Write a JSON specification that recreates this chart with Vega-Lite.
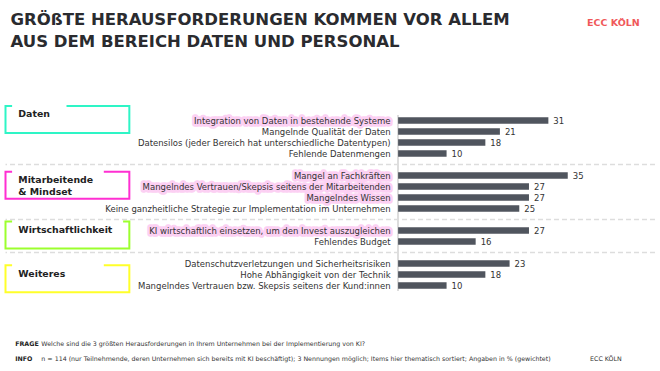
{
  "$schema": "https://vega.github.io/schema/vega-lite/v6.json",
  "width": 649.5,
  "height": 176,
  "autosize": {"type": "none"},
  "padding": {"left": 5.5, "top": 115, "right": 5, "bottom": 80},
  "background": "white",
  "config": {"view": {"stroke": null}, "font": "DejaVu Sans"},
  "title": {
    "text": ["GRÖßTE HERAUSFORDERUNGEN KOMMEN VOR ALLEM", "AUS DEM BEREICH DATEN UND PERSONAL"],
    "anchor": "start",
    "frame": "group",
    "offset": -33,
    "dx": 5,
    "font": "DejaVu Sans",
    "fontSize": 16.5,
    "fontWeight": "bold",
    "color": "#2a2b2f",
    "lineHeight": 22
  },
  "datasets": {
    "items": [
      {"group": "Daten", "item": "Integration von Daten in bestehende Systeme", "value": 31, "hl": true},
      {"group": "Daten", "item": "Mangelnde Qualität der Daten", "value": 21, "hl": false},
      {"group": "Daten", "item": "Datensilos (jeder Bereich hat unterschiedliche Datentypen)", "value": 18, "hl": false},
      {"group": "Daten", "item": "Fehlende Datenmengen", "value": 10, "hl": false},
      {"group": "Mitarbeitende\n& Mindset", "item": "Mangel an Fachkräften", "value": 35, "hl": true},
      {"group": "Mitarbeitende\n& Mindset", "item": "Mangelndes Vertrauen/Skepsis seitens der Mitarbeitenden", "value": 27, "hl": true},
      {"group": "Mitarbeitende\n& Mindset", "item": "Mangelndes Wissen", "value": 27, "hl": true},
      {"group": "Mitarbeitende\n& Mindset", "item": "Keine ganzheitliche Strategie zur Implementation im Unternehmen", "value": 25, "hl": false},
      {"group": "Wirtschaftlichkeit", "item": "KI wirtschaftlich einsetzen, um den Invest auszugleichen", "value": 27, "hl": true},
      {"group": "Wirtschaftlichkeit", "item": "Fehlendes Budget", "value": 16, "hl": false},
      {"group": "Weiteres", "item": "Datenschutzverletzungen und Sicherheitsrisiken", "value": 23, "hl": false},
      {"group": "Weiteres", "item": "Hohe Abhängigkeit von der Technik", "value": 18, "hl": false},
      {"group": "Weiteres", "item": "Mangelndes Vertrauen bzw. Skepsis seitens der Kund:innen", "value": 10, "hl": false}
    ],
    "separators": [
      {"item": "_sep1"},
      {"item": "_sep2"},
      {"item": "_sep3"}
    ],
    "notes": [
      {"tag": "FRAGE", "text": "Welche sind die 3 größten Herausforderungen in Ihrem Unternehmen bei der Implementierung von KI?"},
      {"tag": "INFO", "text": "n = 114 (nur Teilnehmende, deren Unternehmen sich bereits mit KI beschäftigt); 3 Nennungen möglich; Items hier thematisch sortiert; Angaben in % (gewichtet)"}
    ]
  },
  "layer": [
    {
      "layer": [
        {
          "data": {"name": "separators"},
          "mark": {"type": "rule", "color": "#dddddd", "strokeWidth": 1.5, "strokeDash": [5, 3]},
          "encoding": {
            "y": {"field": "item", "type": "nominal", "bandPosition": 0.5, "axis": null,
              "scale": {"type": "band", "paddingInner": 0, "paddingOuter": 0, "domain": ["Integration von Daten in bestehende Systeme", "Mangelnde Qualität der Daten", "Datensilos (jeder Bereich hat unterschiedliche Datentypen)", "Fehlende Datenmengen", "_sep1", "Mangel an Fachkräften", "Mangelndes Vertrauen/Skepsis seitens der Mitarbeitenden", "Mangelndes Wissen", "Keine ganzheitliche Strategie zur Implementation im Unternehmen", "_sep2", "KI wirtschaftlich einsetzen, um den Invest auszugleichen", "Fehlendes Budget", "_sep3", "Datenschutzverletzungen und Sicherheitsrisiken", "Hohe Abhängigkeit von der Technik", "Mangelndes Vertrauen bzw. Skepsis seitens der Kund:innen"]}}
          }
        },
        {
          "data": {"name": "items"},
          "transform": [
            {"window": [{"op": "row_number", "as": "rn"}], "groupby": ["group"]},
            {"filter": "datum.rn == 1"}
          ],
          "mark": {"type": "bar", "height": 27, "fill": "transparent", "strokeWidth": 2},
          "encoding": {
            "y": {"field": "item", "type": "nominal", "axis": null,
              "scale": {"type": "band", "paddingInner": 0, "paddingOuter": 0, "domain": ["Integration von Daten in bestehende Systeme", "Mangelnde Qualität der Daten", "Datensilos (jeder Bereich hat unterschiedliche Datentypen)", "Fehlende Datenmengen", "_sep1", "Mangel an Fachkräften", "Mangelndes Vertrauen/Skepsis seitens der Mitarbeitenden", "Mangelndes Wissen", "Keine ganzheitliche Strategie zur Implementation im Unternehmen", "_sep2", "KI wirtschaftlich einsetzen, um den Invest auszugleichen", "Fehlendes Budget", "_sep3", "Datenschutzverletzungen und Sicherheitsrisiken", "Hohe Abhängigkeit von der Technik", "Mangelndes Vertrauen bzw. Skepsis seitens der Kund:innen"]}},
            "yOffset": {"field": "group", "type": "nominal",
              "scale": {"type": "point", "padding": 0, "domain": ["Daten", "Wirtschaftlichkeit", "Mitarbeitende\n& Mindset", "Weiteres"], "range": [4.44, 20.76]}},
            "x": {"datum": -81},
            "x2": {"datum": -55.45},
            "stroke": {"field": "group", "type": "nominal", "legend": null,
              "scale": {"domain": ["Daten", "Mitarbeitende\n& Mindset", "Wirtschaftlichkeit", "Weiteres"], "range": ["#2ef5c6", "#ff2fd2", "#9cff2e", "#ffff2a"]}},
            "strokeDash": {"field": "group", "type": "nominal", "legend": null,
              "scale": {"domain": ["Daten", "Mitarbeitende\n& Mindset", "Wirtschaftlichkeit", "Weiteres"], "range": [[6.6, 54.4, 400, 0], [6.6, 91.7, 400, 0], [6.6, 111, 400, 0], [6.6, 91.7, 400, 0]]}}
          }
        },
        {
          "data": {"name": "items"},
          "transform": [
            {"window": [{"op": "row_number", "as": "rn"}], "groupby": ["group"]},
            {"filter": "datum.rn == 1"}
          ],
          "mark": {"type": "text", "align": "left", "baseline": "alphabetic", "dx": 12.8, "dy": -2, "fontSize": 9.4, "fontWeight": "bold", "color": "#222222", "lineBreak": "\n", "lineHeight": 11.7},
          "encoding": {
            "y": {"field": "item", "type": "nominal", "axis": null,
              "scale": {"type": "band", "paddingInner": 0, "paddingOuter": 0, "domain": ["Integration von Daten in bestehende Systeme", "Mangelnde Qualität der Daten", "Datensilos (jeder Bereich hat unterschiedliche Datentypen)", "Fehlende Datenmengen", "_sep1", "Mangel an Fachkräften", "Mangelndes Vertrauen/Skepsis seitens der Mitarbeitenden", "Mangelndes Wissen", "Keine ganzheitliche Strategie zur Implementation im Unternehmen", "_sep2", "KI wirtschaftlich einsetzen, um den Invest auszugleichen", "Fehlendes Budget", "_sep3", "Datenschutzverletzungen und Sicherheitsrisiken", "Hohe Abhängigkeit von der Technik", "Mangelndes Vertrauen bzw. Skepsis seitens der Kund:innen"]}},
            "yOffset": {"field": "group", "type": "nominal",
              "scale": {"type": "point", "padding": 0, "domain": ["Daten", "Wirtschaftlichkeit", "Mitarbeitende\n& Mindset", "Weiteres"], "range": [4.44, 20.76]}},
            "x": {"datum": -81},
            "text": {"field": "group"}
          }
        },
        {
          "data": {"name": "items"},
          "transform": [{"filter": "datum.hl"}],
          "mark": {"type": "text", "align": "right", "baseline": "middle", "dx": -7.5, "fontSize": 8.5, "fill": "#fcd0f3", "stroke": "#fcd0f3", "strokeWidth": 5.5, "strokeJoin": "round"},
          "encoding": {
            "y": {"field": "item", "type": "nominal", "axis": null,
              "scale": {"type": "band", "paddingInner": 0, "paddingOuter": 0, "domain": ["Integration von Daten in bestehende Systeme", "Mangelnde Qualität der Daten", "Datensilos (jeder Bereich hat unterschiedliche Datentypen)", "Fehlende Datenmengen", "_sep1", "Mangel an Fachkräften", "Mangelndes Vertrauen/Skepsis seitens der Mitarbeitenden", "Mangelndes Wissen", "Keine ganzheitliche Strategie zur Implementation im Unternehmen", "_sep2", "KI wirtschaftlich einsetzen, um den Invest auszugleichen", "Fehlendes Budget", "_sep3", "Datenschutzverletzungen und Sicherheitsrisiken", "Hohe Abhängigkeit von der Technik", "Mangelndes Vertrauen bzw. Skepsis seitens der Kund:innen"]}},
            "x": {"datum": 0},
            "text": {"field": "item"}
          }
        },
        {
          "data": {"name": "items"},
          "mark": {"type": "text", "align": "right", "baseline": "middle", "dx": -7.5, "fontSize": 8.5, "color": "#333333"},
          "encoding": {
            "y": {"field": "item", "type": "nominal", "axis": null,
              "scale": {"type": "band", "paddingInner": 0, "paddingOuter": 0, "domain": ["Integration von Daten in bestehende Systeme", "Mangelnde Qualität der Daten", "Datensilos (jeder Bereich hat unterschiedliche Datentypen)", "Fehlende Datenmengen", "_sep1", "Mangel an Fachkräften", "Mangelndes Vertrauen/Skepsis seitens der Mitarbeitenden", "Mangelndes Wissen", "Keine ganzheitliche Strategie zur Implementation im Unternehmen", "_sep2", "KI wirtschaftlich einsetzen, um den Invest auszugleichen", "Fehlendes Budget", "_sep3", "Datenschutzverletzungen und Sicherheitsrisiken", "Hohe Abhängigkeit von der Technik", "Mangelndes Vertrauen bzw. Skepsis seitens der Kund:innen"]}},
            "x": {"datum": 0},
            "text": {"field": "item"}
          }
        },
        {
          "data": {"name": "items"},
          "mark": {"type": "rule", "color": "#dddddd", "strokeWidth": 1.5},
          "encoding": {"x": {"datum": 0}}
        },
        {
          "data": {"name": "items"},
          "mark": {"type": "bar", "height": 6.5, "color": "#50555e"},
          "encoding": {
            "y": {"field": "item", "type": "nominal", "axis": null,
              "scale": {"type": "band", "paddingInner": 0, "paddingOuter": 0, "domain": ["Integration von Daten in bestehende Systeme", "Mangelnde Qualität der Daten", "Datensilos (jeder Bereich hat unterschiedliche Datentypen)", "Fehlende Datenmengen", "_sep1", "Mangel an Fachkräften", "Mangelndes Vertrauen/Skepsis seitens der Mitarbeitenden", "Mangelndes Wissen", "Keine ganzheitliche Strategie zur Implementation im Unternehmen", "_sep2", "KI wirtschaftlich einsetzen, um den Invest auszugleichen", "Fehlendes Budget", "_sep3", "Datenschutzverletzungen und Sicherheitsrisiken", "Hohe Abhängigkeit von der Technik", "Mangelndes Vertrauen bzw. Skepsis seitens der Kund:innen"]}},
            "x": {"field": "value", "type": "quantitative",
              "scale": {"domain": [-81, 53], "nice": false, "zero": false},
              "axis": {"orient": "top", "domain": false, "ticks": false, "labels": false, "grid": false,
                "title": "ECC KÖLN", "titleX": 633.8, "titleY": -90, "titleAlign": "right", "titleBaseline": "alphabetic",
                "titleColor": "#f0585a", "titleFont": "DejaVu Sans", "titleFontSize": 9.5, "titleFontWeight": "bold"}}
          }
        },
        {
          "data": {"name": "items"},
          "mark": {"type": "text", "align": "left", "baseline": "middle", "dx": 5, "fontSize": 8.5, "color": "#333333"},
          "encoding": {
            "y": {"field": "item", "type": "nominal", "axis": null,
              "scale": {"type": "band", "paddingInner": 0, "paddingOuter": 0, "domain": ["Integration von Daten in bestehende Systeme", "Mangelnde Qualität der Daten", "Datensilos (jeder Bereich hat unterschiedliche Datentypen)", "Fehlende Datenmengen", "_sep1", "Mangel an Fachkräften", "Mangelndes Vertrauen/Skepsis seitens der Mitarbeitenden", "Mangelndes Wissen", "Keine ganzheitliche Strategie zur Implementation im Unternehmen", "_sep2", "KI wirtschaftlich einsetzen, um den Invest auszugleichen", "Fehlendes Budget", "_sep3", "Datenschutzverletzungen und Sicherheitsrisiken", "Hohe Abhängigkeit von der Technik", "Mangelndes Vertrauen bzw. Skepsis seitens der Kund:innen"]}},
            "x": {"field": "value", "type": "quantitative"},
            "text": {"field": "value", "type": "quantitative"}
          }
        }
      ]
    },
    {
      "data": {"name": "notes"},
      "encoding": {
        "y": {"field": "tag", "type": "nominal", "axis": null,
          "scale": {"type": "point", "domain": ["FRAGE", "INFO"], "range": [229, 244], "padding": 0}}
      },
      "layer": [
        {
          "mark": {"type": "text", "align": "left", "baseline": "middle", "fontSize": 6.3, "fontWeight": "bold", "color": "#222222"},
          "encoding": {"x": {"datum": -79}, "text": {"field": "tag"}}
        },
        {
          "mark": {"type": "text", "align": "left", "baseline": "middle", "fontSize": 6.3, "color": "#333333"},
          "encoding": {"x": {"datum": -73.6}, "text": {"field": "text"}}
        },
        {
          "transform": [{"filter": "datum.tag == 'INFO'"}],
          "mark": {"type": "text", "align": "left", "baseline": "middle", "fontSize": 6.3, "color": "#333333"},
          "encoding": {"x": {"datum": 39.6}, "text": {"value": "ECC KÖLN"}}
        }
      ]
    }
  ],
  "resolve": {"scale": {"y": "independent"}}
}
